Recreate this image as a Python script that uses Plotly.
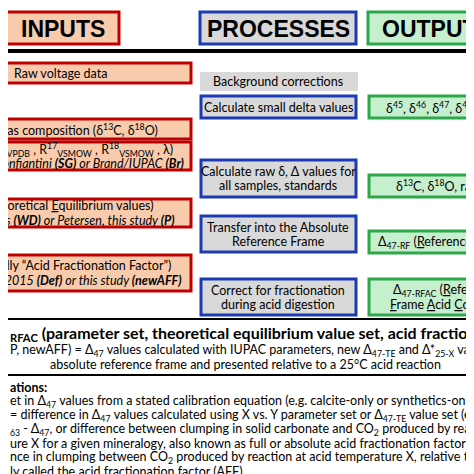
import plotly.graph_objects as go

# column headers
headers = ["INPUTS", "PROCESSES", "OUTPUTS"]

# input boxes (text lines, right-anchored because the left side is cut off)
input_lines = [
    ["Raw voltage data"],
    ["Reference Gas composition (&#948;<sup>13</sup>C, &#948;<sup>18</sup>O)"],
    ["Parameters (R<sup>13</sup><sub>VPDB</sub> , R<sup>17</sup><sub>VSMOW</sub> , R<sup>18</sup><sub>VSMOW</sub> , &#955;)",
     "<i>Santrock/Gonfiantini <b>(SG)</b> or Brand/IUPAC <b>(Br)</b></i>"],
    ["&#916;<sub>47-TE</sub> (<u>T</u>heoretical <u>E</u>quilibrium values)",
     "<i>Wang/Dennis <b>(WD)</b> or Petersen, this study <b>(P)</b></i>"],
    ["&#916;*<sub>25-X</sub> (colloquially \u201cAcid Fractionation Factor\u201d)",
     "<i>Defliese et al. 2015 <b>(Def)</b> or this study <b>(newAFF)</b></i>"],
]

process_lines = [
    ["Background corrections"],
    ["Calculate small delta values"],
    ["Calculate raw &#948;, &#916; values for", "all samples, standards"],
    ["Transfer into the Absolute", "Reference Frame"],
    ["Correct for fractionation", "during acid digestion"],
]

output_lines = [
    ["&#948;<sup>45</sup>, &#948;<sup>46</sup>, &#948;<sup>47</sup>, &#948;<sup>48</sup>, and &#948;<sup>49</sup>"],
    ["&#948;<sup>13</sup>C, &#948;<sup>18</sup>O, raw &#916;<sub>47</sub>"],
    ["&#916;<sub>47-RF</sub> (<u>R</u>eference <u>F</u>rame)"],
    ["&#916;<sub>47-RFAC</sub> (<u>R</u>eference", "<u>F</u>rame <u>A</u>cid <u>C</u>orrected)"],
]

summary_lines = [
    "<b><sub>RFAC</sub> (parameter set, theoretical equilibrium value set, acid fractionation factor)</b>",
    "P, newAFF) = &#916;<sub>47</sub> values calculated with IUPAC parameters, new &#916;<sub>47-TE</sub> and &#916;*<sub>25-X</sub> values, corrected into the",
    "absolute reference frame and presented relative to a 25\u00b0C acid reaction",
]

note_lines = [
    "<b>ations:</b>",
    "et in &#916;<sub>47</sub> values from a stated calibration equation (e.g. calcite-only or synthetics-only)",
    "= difference in &#916;<sub>47</sub> values calculated using X vs. Y parameter set or &#916;<sub>47-TE</sub> value set (e.g. SG-Br or WD-P)",
    "<sub>63</sub> - &#916;<sub>47</sub>, or difference between clumping in solid carbonate and CO<sub>2</sub> produced by reaction at acid",
    "ure X for a given mineralogy, also known as full or absolute acid fractionation factor",
    "nce in clumping between CO<sub>2</sub> produced by reaction at acid temperature X, relative to a 25\u00b0C acid",
    "ly called the acid fractionation factor (AFF)",
]

RED, PEACH = "#c00000", "#f8cbad"
BLUE, GREY = "#1c3bb0", "#d9d9d9"
GREEN, LGREEN = "#2ca84a", "#c6efce"
BODY = "Lato"

fig = go.Figure()
shapes, annos = [], []

def box(x0, y0, x1, y1, fill, line, w=3):
    shapes.append(dict(type="rect", x0=x0, y0=y0, x1=x1, y1=y1, fillcolor=fill,
                       line=dict(color=line, width=w), layer="below"))

def text(x, y, s, size=12.5, anchor="center", font=BODY, color="black"):
    annos.append(dict(x=x, y=y, text=s, showarrow=False, xanchor=anchor, yanchor="middle",
                      font=dict(size=size, family=font, color=color)))

# headers
box(-20, 4, 111, 36, PEACH, RED)
box(192, 4, 348, 36, GREY, BLUE)
box(360, 4, 500, 36, LGREEN, GREEN)
for x, h in zip([55, 270, 372], headers):
    text(x, 21, "<b>%s</b>" % h, size=23, font="Liberation Sans",
         anchor="left" if h == "OUTPUTS" else "center")
shapes.append(dict(type="line", x0=-5, x1=480, y0=43, y1=43, line=dict(color="black", width=4)))

# inputs
in_boxes = [(55, 75), (111, 131), (134, 162), (191, 219), (247, 283)]
in_ends = [[None], [152], [167, 178], [148, 169], [165, 176]]
for (y0, y1), lines, ends in zip(in_boxes, input_lines, in_ends):
    box(-100, y0, 183, y1, PEACH, RED)
    n = len(lines)
    for i, s in enumerate(lines):
        y = (y0 + y1) / 2 + (i - (n - 1) / 2) * 14
        if ends[i] is None:
            text(52, y, s)
        else:
            text(ends[i], y, s, anchor="right")

# processes
pr_boxes = [(64, 83), (88, 110), (152, 189), (208, 244), (271, 307)]
for k, ((y0, y1), lines) in enumerate(zip(pr_boxes, process_lines)):
    if k == 0:
        box(192, y0, 350, y1, GREY, GREY, w=0)
    else:
        box(193, y0, 348, y1, GREY, BLUE)
    n = len(lines)
    for i, s in enumerate(lines):
        text(270, (y0 + y1) / 2 + (i - (n - 1) / 2) * 14, s)

# outputs
out_boxes = [(88, 110), (167, 189), (223, 245), (271, 307)]
out_x = [376, 386, 368, 383]
for (y0, y1), lines, x in zip(out_boxes, output_lines, out_x):
    box(361, y0, 500, y1, LGREEN, GREEN)
    n = len(lines)
    for i, s in enumerate(lines):
        text(x - (3 if i == 1 else 0), (y0 + y1) / 2 + (i - (n - 1) / 2) * 14, s, anchor="left")

# summary block
shapes.append(dict(type="line", x0=-5, x1=480, y0=311, y1=311, line=dict(color="black", width=2)))
shapes.append(dict(type="line", x0=-5, x1=480, y0=367, y1=367, line=dict(color="black", width=2)))
text(0, 325, summary_lines[0], size=16, anchor="left")
text(0, 342, summary_lines[1], size=12.5, anchor="left")
text(237, 356, summary_lines[2], size=12.5)

note_y = [379, 393, 407, 421, 435, 449, 463]
for y, s in zip(note_y, note_lines):
    text(0, y, s, size=12.5, anchor="left")

fig.update_layout(
    width=474, height=474, margin=dict(l=0, r=0, t=0, b=0),
    plot_bgcolor="white", paper_bgcolor="white",
    xaxis=dict(range=[0, 474], visible=False, fixedrange=True),
    yaxis=dict(range=[474, 0], visible=False, fixedrange=True),
    shapes=shapes, annotations=annos, showlegend=False,
)
fig.write_html("out.html")
